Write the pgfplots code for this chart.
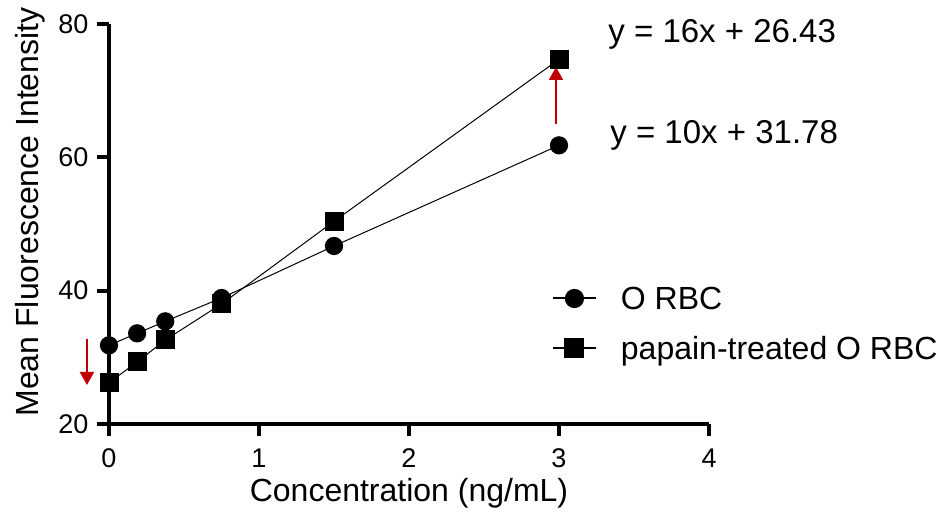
\documentclass[border=0pt]{standalone}
\usepackage{fontspec}
\setmainfont{Liberation Sans}
\usepackage{pgfplots}
\pgfplotsset{compat=1.18}
\usetikzlibrary{arrows.meta}
\definecolor{arrowred}{RGB}{192,0,0}

\begin{document}
\begin{tikzpicture}
\useasboundingbox (0,0) rectangle (473.5pt,258.5pt);
\begin{axis}[
  at={(54.5pt,46.5pt)}, anchor=south west,
  scale only axis, width=300pt, height=200pt,
  xmin=0, xmax=4, ymin=20, ymax=80,
  axis lines=left,
  axis line style={-, line width=2pt},
  xtick={0,1,2,3,4}, ytick={20,40,60,80},
  tick align=outside, major tick length=5.8pt,
  major tick style={line width=2pt, black},
  /pgf/number format/assume math mode=true,
  ticklabel style={font=\fontsize{13.5}{16}\selectfont},
  xticklabel style={yshift=-3pt},
  yticklabel style={xshift=-1pt},
  xlabel={Concentration (ng/mL)}, ylabel={Mean Fluorescence Intensity},
  label style={font=\fontsize{16}{19}\selectfont},
  xlabel style={at={(axis description cs:0.5,-0.195)}, anchor=base},
  ylabel style={at={(axis description cs:-0.1317,0.53)}, anchor=center},
  clip=false,
  legend cell align=left,
  legend image code/.code={\draw[mark repeat=2,mark phase=2,line width=1pt] plot coordinates {(0pt,0pt)(10.75pt,0pt)(21.5pt,0pt)};},
  legend style={draw=none, fill=none, inner sep=0pt, outer sep=0pt,
    at={(axis cs:2.953,40.55)}, anchor=north west,
    row sep=13.5pt, column sep=12pt,
    font=\fontsize{16}{19}\selectfont,
    nodes={inner sep=0pt, text height=11.5pt, text depth=0pt}},
]
\addplot[black, line width=0.5pt, mark=*, mark size=4.3pt, mark options={solid, fill=black}]
  coordinates {(0,31.8) (0.1875,33.6) (0.375,35.4) (0.75,38.9) (1.5,46.7) (3,61.8)};
\addlegendentry{O RBC}
\addplot[black, line width=0.5pt, mark=square*, mark size=4.5pt, mark options={solid, fill=black}]
  coordinates {(0,26.2) (0.1875,29.3) (0.375,32.6) (0.75,38.0) (1.5,50.4) (3,74.7)};
\addlegendentry{papain-treated O RBC}

\draw[arrowred, line width=1pt, -{Triangle[length=6.5pt,width=7pt]}] (axis cs:-0.147,32.7) -- (axis cs:-0.147,25.85);
\draw[arrowred, line width=1pt, -{Triangle[length=6.5pt,width=7pt]}] (axis cs:2.98,65.0) -- (axis cs:2.98,73.55);

\node[anchor=base west, inner sep=0pt, font=\fontsize{16.5}{19}\selectfont] at (axis cs:3.327,77.19) {y = 16x + 26.43};
\node[anchor=base west, inner sep=0pt, font=\fontsize{16.5}{19}\selectfont] at (axis cs:3.34,62.0) {y = 10x + 31.78};
\end{axis}
\end{tikzpicture}
\end{document}
